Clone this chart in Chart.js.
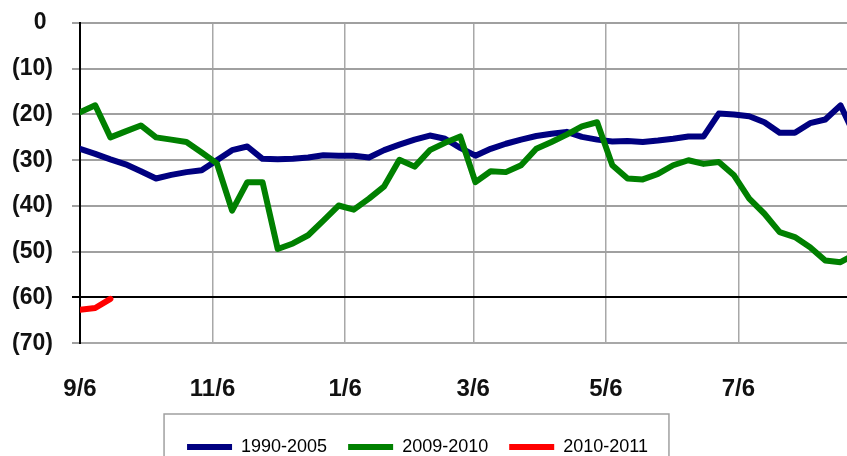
<!DOCTYPE html>
<html>
<head>
<meta charset="utf-8">
<script src="https://cdn.jsdelivr.net/npm/chart.js@4.4.1/dist/chart.umd.min.js"></script>
<style>
    html, body { margin: 0; padding: 0; background: #fff; overflow: hidden; }
    #chart { display: block; }
</style>
</head>
<body>
<canvas id="chart" width="847" height="466"></canvas>
<script>
// weekly points, days counted from 9/6
const weekDays = [0, 7, 14, 21, 28, 35, 42, 49, 56, 63, 70, 77, 84, 91, 98, 105, 112, 119, 126, 133,
    140, 147, 154, 161, 168, 175, 182, 189, 196, 203, 210, 217, 224, 231, 238, 245, 252, 259, 266, 273,
    280, 287, 294, 301, 308, 315, 322, 329, 336, 343, 350, 357];

const tickDays = [0, 61, 122, 181, 242, 303];
const tickLabels = ["9/6", "11/6", "1/6", "3/6", "5/6", "7/6"];

const seriesNames = ["1990-2005", "2009-2010", "2010-2011"];

const values1990 = [-27.5, -28.6, -29.8, -30.9, -32.4, -34, -33.2, -32.6, -32.2, -30, -27.8, -27, -29.7,
    -29.8, -29.7, -29.4, -28.9, -29, -29, -29.4, -27.8, -26.6, -25.5, -24.6, -25.3, -27.3, -29,
    -27.5, -26.4, -25.5, -24.7, -24.2, -23.8, -24.9, -25.5, -25.9, -25.8, -26, -25.7, -25.3, -24.8,
    -24.8, -19.8, -20, -20.4, -21.7, -24, -24, -21.9, -21.1, -18, -25];

const values2009 = [-19.5, -18, -25, -23.7, -22.4, -25, -25.5, -26, -28.3, -30.7, -41, -34.8, -34.8,
    -49.4, -48.2, -46.4, -43.2, -39.9, -40.8, -38.4, -35.7, -29.9, -31.4, -27.8, -26.2, -24.8, -34.8,
    -32.4, -32.6, -31.1, -27.5, -26, -24.4, -22.6, -21.7, -31.1, -34, -34.2, -33, -31.1, -30,
    -30.8, -30.4, -33.3, -38.4, -41.7, -45.7, -46.8, -49, -51.9, -52.3, -50.5];

const values2010 = [-62.7, -62.3, -60.3];

const colors = ["#000080", "#008000", "#ff0000"];

function toPoints(values) {
    return values.map((v, i) => ({x: weekDays[i], y: v}));
}

function makeDataset(index, values, order) {
    return {
        label: seriesNames[index],
        data: toPoints(values),
        borderColor: colors[index],
        backgroundColor: colors[index],
        borderWidth: 6,
        pointRadius: 0,
        tension: 0,
        borderJoinStyle: "round",
        borderCapStyle: "round",
        order: order,
    };
}

const legendFrame = {
    id: "legendFrame",
    afterLayout(chart) {
        // legend sits a little left of centre in the original
        chart.legend.left -= 6;
        chart.legend.right -= 6;
    },
    afterDraw(chart) {
        const boxes = chart.legend.legendHitBoxes;
        if (!boxes || !boxes.length) {
            return;
        }
        const first = boxes[0];
        const last = boxes[boxes.length - 1];
        const ctx = chart.ctx;
        ctx.save();
        ctx.strokeStyle = "#a0a0a0";
        ctx.lineWidth = 1.5;
        const left = first.left - 23;
        const right = last.left + last.width + 21;
        ctx.strokeRect(left, first.top + first.height / 2 - 33, right - left, 100);
        ctx.restore();
    }
};

new Chart(document.getElementById("chart"), {
    type: "line",
    data: {
        datasets: [
            makeDataset(0, values1990, 3),
            makeDataset(1, values2009, 2),
            makeDataset(2, values2010, 1),
        ]
    },
    options: {
        responsive: false,
        animation: false,
        devicePixelRatio: 1,
        layout: {padding: {top: 23, left: 0, right: 0, bottom: 0}},
        plugins: {
            tooltip: {enabled: false},
            legend: {
                position: "bottom",
                labels: {
                    boxWidth: 45,
                    boxHeight: 6,
                    padding: 21,
                    color: "#222",
                    font: {family: "'Liberation Sans', Arial", size: 18},
                    useBorderRadius: true,
                    borderRadius: 3,
                    generateLabels(chart) {
                        return chart.data.datasets.map((ds, i) => ({
                            text: ds.label,
                            fillStyle: ds.borderColor,
                            strokeStyle: ds.borderColor,
                            lineWidth: 0,
                            datasetIndex: i,
                            hidden: false,
                        }));
                    }
                }
            }
        },
        scales: {
            x: {
                type: "linear",
                min: 0,
                max: 353,
                afterBuildTicks(scale) {
                    scale.ticks = tickDays.map(v => ({value: v}));
                },
                afterFit(scale) {
                    scale.height = scale.height - 19;
                },
                ticks: {
                    autoSkip: false,
                    maxRotation: 0,
                    padding: 32,
                    color: "#111",
                    font: {family: "'Liberation Sans', Arial", size: 24, weight: "bold"},
                    callback: (value, index) => tickLabels[index],
                },
                grid: {color: "#a8a8a8", lineWidth: 1.5, drawTicks: false},
                border: {color: "#a8a8a8", width: 2},
            },
            y: {
                min: -70,
                max: 0,
                afterFit(scale) {
                    scale.width = 80;
                    scale.paddingTop = 0;
                },
                ticks: {
                    stepSize: 10,
                    padding: 19,
                    color: "#111",
                    font: {family: "'Liberation Sans', Arial", size: 23, weight: "bold"},
                    callback: value => value < 0 ? "(" + Math.abs(value) + ")" : value + " ",
                },
                grid: {
                    lineWidth: 2,
                    tickLength: 8,
                    color: ctx => ctx.tick && ctx.tick.value === -60 ? "#000" : "#a0a0a0",
                },
                border: {color: "#000", width: 2},
            }
        }
    },
    plugins: [legendFrame]
});
</script>
</body>
</html>
